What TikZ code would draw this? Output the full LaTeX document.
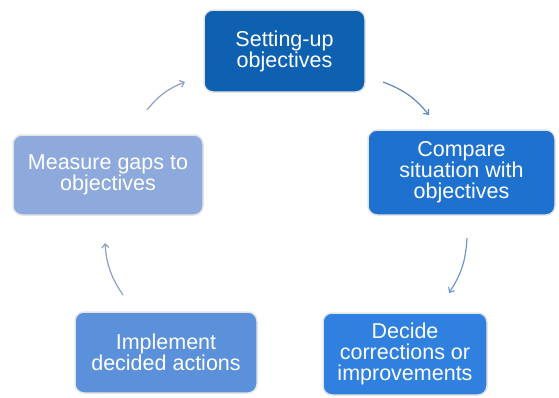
\documentclass[tikz,border=0pt]{standalone}
\usepackage{fontspec}
\setmainfont{Liberation Sans}
\usetikzlibrary{arrows.meta}
\definecolor{cA}{HTML}{0E61B1}
\definecolor{cB}{HTML}{1E71CF}
\definecolor{cC}{HTML}{2F80DF}
\definecolor{cD}{HTML}{8EA9DB}
\definecolor{cE}{HTML}{5B90DA}
\definecolor{arG}{HTML}{8E9EC4}
\definecolor{arB}{HTML}{5F88BC}
\definecolor{arC}{HTML}{6F98D2}
\tikzset{
  stepbox/.style={rectangle, rounded corners=9pt, draw=black!10, line width=1.5pt,
    text=white, align=center, inner sep=0pt,
    font=\fontsize{21.5}{21}\selectfont},
  cyc/.style={line width=1.2pt, -{Straight Barb[length=4pt,width=7pt]}},
}
\begin{document}
\begin{tikzpicture}[x=1pt,y=-1pt]
\useasboundingbox (0,0) rectangle (559,397);
\node[stepbox, fill=cA, minimum width=161pt, minimum height=82pt] (n1) at (284.5,51) {Setting-up\\objectives};
\node[stepbox, fill=cB, minimum width=187pt, minimum height=85pt] (n2) at (461.5,172.5) {Compare\\situation with\\objectives};
\node[stepbox, fill=cC, minimum width=164pt, minimum height=82pt] (n3) at (405,354) {Decide\\corrections or\\improvements};
\node[stepbox, fill=cE, minimum width=182pt, minimum height=81pt] (n5) at (166,352.5) {Implement\\decided actions};
\node[stepbox, fill=cD, minimum width=190pt, minimum height=80pt] (n4) at (108,175) {Measure gaps to\\objectives};
\coordinate (a1s) at (147,110); \coordinate (a1e) at (185,82);
\coordinate (a2s) at (383,82); \coordinate (a2e) at (429,115);
\coordinate (a3s) at (467,238); \coordinate (a3e) at (449,293);
\coordinate (a4s) at (123,295); \coordinate (a4e) at (105,243);
\draw[cyc, arG] (a1s) to[bend left=15] (a1e);
\draw[cyc, arB] (a2s) to[bend left=15] (a2e);
\draw[cyc, arC] (a3s) to[bend left=15] (a3e);
\draw[cyc, arG] (a4s) to[bend left=15] (a4e);
\end{tikzpicture}
\end{document}
